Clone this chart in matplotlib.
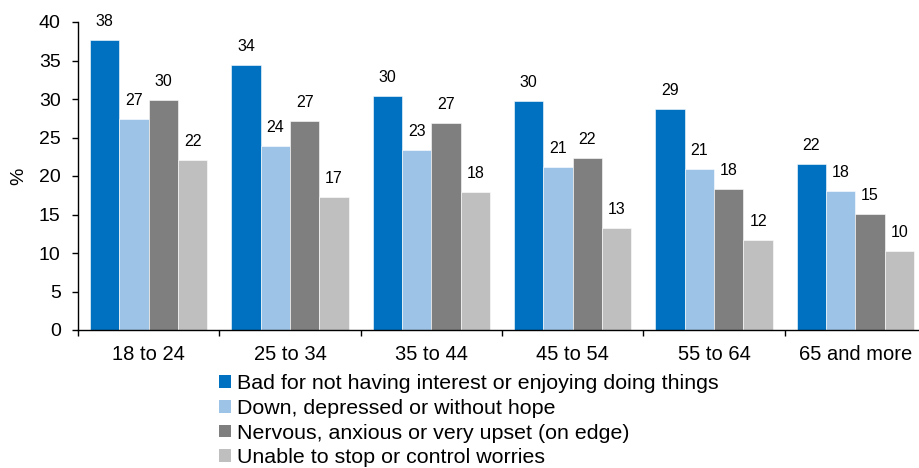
import matplotlib
matplotlib.use("Agg")
import matplotlib.pyplot as plt
import numpy as np
from matplotlib.patches import Patch

plt.rcParams['font.family'] = ['Liberation Sans', 'DejaVu Sans']

age_groups = ["18 to 24", "25 to 34", "35 to 44", "45 to 54", "55 to 64", "65 and more"]
series_names = [
    "Bad for not having interest or enjoying doing things",
    "Down, depressed or without hope",
    "Nervous, anxious or very upset (on edge)",
    "Unable to stop or control worries",
]
no_interest = [37.6, 34.4, 30.4, 29.7, 28.7, 21.6]
depressed = [27.4, 23.9, 23.4, 21.2, 20.9, 18.0]
nervous = [29.9, 27.1, 26.9, 22.3, 18.3, 15.1]
worries = [22.1, 17.3, 17.9, 13.2, 11.7, 10.3]
y_ticks = [0, 5, 10, 15, 20, 25, 30, 35, 40]

colors = ["#0070C0", "#9DC3E6", "#7F7F7F", "#BFBFBF"]
series = [no_interest, depressed, nervous, worries]

fig = plt.figure(figsize=(9.19, 4.68), dpi=100)
ax = fig.add_axes([78 / 919, 138 / 468, 848 / 919, 308 / 468])

x = np.arange(len(age_groups))
w = 0.208
offsets = (np.arange(4) - 1.5) * w
for vals, off, col in zip(series, offsets, colors):
    bars = ax.bar(x + off, vals, width=w, color=col, edgecolor="white", linewidth=0.4)
    for b, v in zip(bars, vals):
        ax.annotate(f"{v:.0f}", (b.get_x() + b.get_width() / 2, v),
                    xytext=(0, 8), textcoords="offset points",
                    ha="center", va="bottom", fontsize=11.5, color="black")

ax.set_xlim(-0.5, len(age_groups) - 0.5)
ax.set_ylim(0, 40)
ax.set_yticks(y_ticks)
ax.tick_params(axis="y", labelsize=14, length=4.5, width=1, direction="out", pad=8)
ax.set_xticks(np.arange(len(age_groups) + 1) - 0.5, minor=False)
ax.set_xticklabels([])
ax.set_xticks(x, minor=True)
ax.set_xticklabels(age_groups, minor=True)
ax.tick_params(axis="x", which="major", length=4.5, width=1, direction="out")
ax.tick_params(axis="x", which="minor", length=0, labelsize=14.5, pad=11)

for s in ["top", "right"]:
    ax.spines[s].set_visible(False)
for s in ["left", "bottom"]:
    ax.spines[s].set_linewidth(1)
    ax.spines[s].set_color("black")

ax.set_ylabel("%", fontsize=14, labelpad=8)

handles = [Patch(facecolor=c, edgecolor="none") for c in colors]
fig.legend(handles, series_names, loc="upper left",
           bbox_to_anchor=(219 / 919, 1 - 374 / 468), frameon=False,
           fontsize=15.4, handlelength=0.55, handleheight=0.55,
           handletextpad=0.28, labelspacing=0.27, borderpad=0, borderaxespad=0)

fig.savefig("out.png", dpi=100)
